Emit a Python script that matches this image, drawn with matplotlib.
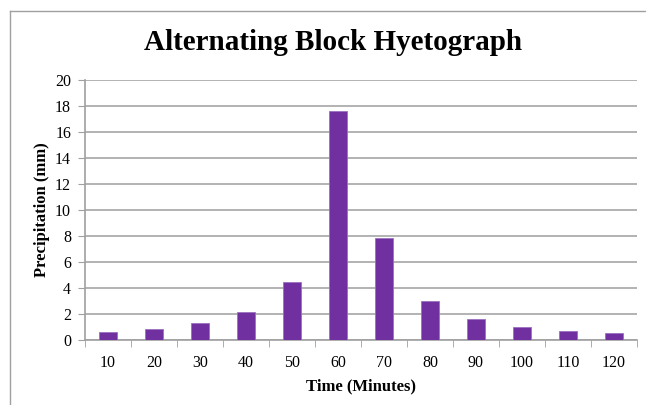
import matplotlib
matplotlib.use("Agg")
import matplotlib.pyplot as plt
from matplotlib.lines import Line2D
import numpy as np

categories = ["10", "20", "30", "40", "50", "60", "70", "80", "90", "100", "110", "120"]
precip = [0.6, 0.85, 1.28, 2.13, 4.5, 17.6, 7.82, 2.98, 1.59, 1.03, 0.72, 0.54]
yticks = [0, 2, 4, 6, 8, 10, 12, 14, 16, 18, 20]

W, H = 646, 405
fig = plt.figure(figsize=(W/100, H/100), dpi=100)
ax = fig.add_axes([85/W, 1-340/H, (637-85)/W, (340-80)/H])

serif = ["Liberation Serif", "DejaVu Serif"]
x = np.arange(len(categories))
ax.bar(x, precip, width=0.4, color="#7030A0", edgecolor="#9a70c0", linewidth=0.6, zorder=3)

ax.set_xlim(-0.5, len(categories)-0.5)
ax.set_ylim(0, 20)
ax.set_yticks(yticks)
ax.set_yticklabels([str(v) for v in yticks], fontfamily=serif, fontsize=11.5)
ax.set_xticks(x)
ax.set_xticklabels(categories, fontfamily=serif, fontsize=11.5)
ax.tick_params(axis="x", which="major", length=0, pad=11)
ax.set_xticks(np.arange(-0.5, len(categories)), minor=True)
ax.tick_params(axis="x", which="minor", length=5, color="#A0A0A0", direction="out")
ax.tick_params(axis="y", length=5, color="#A0A0A0", direction="out", pad=5)
ax.yaxis.grid(True, color="#A6A6A6", linewidth=1.2, zorder=0)
ax.set_axisbelow(True)
for s in ["top", "right"]:
    ax.spines[s].set_visible(False)
for s in ["left", "bottom"]:
    ax.spines[s].set_color("#A0A0A0")
    ax.spines[s].set_linewidth(1.2)

ax.set_xlabel("Time (Minutes)", fontfamily=serif, fontsize=12, fontweight="bold", labelpad=5)
ax.set_ylabel("Precipitation (mm)", fontfamily=serif, fontsize=12, fontweight="bold", labelpad=4)

fig.text(333/W, 1-42/H, "Alternating Block Hyetograph", ha="center", va="center",
         fontfamily=serif, fontsize=21, fontweight="bold")

# outer chart frame
fig.add_artist(Line2D([9.5/W, 9.5/W], [0, 1-11/H], transform=fig.transFigure, color="#A0A0A0", linewidth=1))
fig.add_artist(Line2D([9.5/W, 1], [1-11/H, 1-11/H], transform=fig.transFigure, color="#A0A0A0", linewidth=1))

fig.savefig("out.png", dpi=100)
